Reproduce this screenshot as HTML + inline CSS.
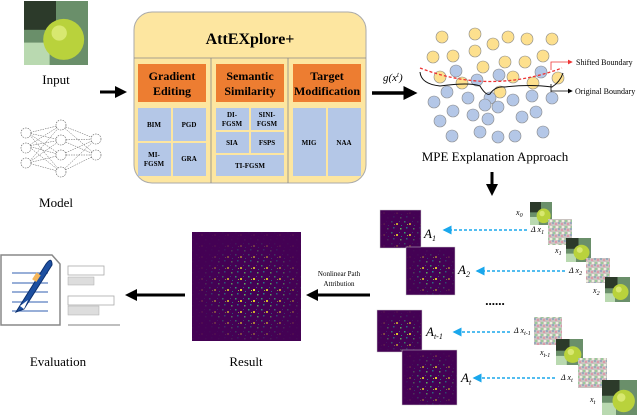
<!DOCTYPE html>
<html><head><meta charset="utf-8"><style>
html,body{margin:0;padding:0;background:#fff;}
svg{display:block;font-family:"Liberation Serif",serif;}
</style></head><body>
<svg width="640" height="418" viewBox="0 0 640 418" xmlns="http://www.w3.org/2000/svg">
<defs>
<marker id="ab" markerWidth="4" markerHeight="4" refX="3" refY="2" orient="auto"><path d="M0,0 L4,2 L0,4 z" fill="#000"/></marker>
<marker id="abl" markerWidth="6" markerHeight="6" refX="5" refY="3" orient="auto"><path d="M0,0 L6,3 L0,6 z" fill="#1aa7ec"/></marker>
<marker id="as" markerWidth="6" markerHeight="6" refX="5" refY="3" orient="auto"><path d="M0,0 L6,3 L0,6 z" fill="#000"/></marker>
<marker id="ar" markerWidth="6" markerHeight="6" refX="5" refY="3" orient="auto"><path d="M0,0 L6,3 L0,6 z" fill="#e33"/></marker>
<pattern id="hm" width="13" height="11" patternUnits="userSpaceOnUse">
<rect x="1" y="1" width="1.5" height="1.5" fill="#35b779"/><rect x="6" y="3" width="2" height="2" fill="#fde725"/><rect x="3" y="7" width="1.5" height="1.5" fill="#21918c"/><rect x="10" y="8" width="1.5" height="1.5" fill="#5ec962"/><rect x="9" y="1" width="1" height="1" fill="#3b528b"/><rect x="4" y="4" width="1" height="1" fill="#b5de2b"/><rect x="11" y="5" width="1" height="1" fill="#21918c"/>
</pattern>
<radialGradient id="rg" cx="0.55" cy="0.55" r="0.5"><stop offset="0" stop-color="#fff" stop-opacity="1"/><stop offset="0.45" stop-color="#fff" stop-opacity="0.7"/><stop offset="1" stop-color="#fff" stop-opacity="0.05"/></radialGradient>
<mask id="mk" maskContentUnits="objectBoundingBox"><rect width="1" height="1" fill="url(#rg)"/></mask>
<pattern id="nz" width="6" height="6" patternUnits="userSpaceOnUse">
<rect width="6" height="6" fill="#c9c3c0"/><rect width="2" height="2" fill="#9ab"/><rect x="3" y="1" width="2" height="2" fill="#d9a"/><rect x="1" y="4" width="2" height="2" fill="#9c9"/><rect x="4" y="4" width="2" height="2" fill="#eed"/>
</pattern>
<g id="fruit"><rect width="1" height="1" fill="#6a8f6a"/><rect x="0" y="0" width="0.5" height="0.45" fill="#2c3a2a"/><rect x="0" y="0.65" width="0.4" height="0.35" fill="#b9d9b0"/><circle cx="0.62" cy="0.6" r="0.32" fill="#b9d23c"/><circle cx="0.55" cy="0.5" r="0.12" fill="#d8e870"/></g>
</defs>

<g transform="translate(24,1) scale(64,64)"><use href="#fruit"/></g>
<text x="56" y="84" font-size="13" text-anchor="middle">Input</text>
<g stroke="#555" stroke-width="0.5" fill="none" stroke-dasharray="1.5,1">
<path d="M28,133 L61,125 M28,133 L61,140 M28,133 L61,155 M28,133 L61,172 M28,146 L61,125 M28,146 L61,140 M28,146 L61,155 M28,146 L61,172 M28,163 L61,125 M28,163 L61,140 M28,163 L61,155 M28,163 L61,172 M61,125 L96,139 M61,125 L96,155 M61,140 L96,139 M61,140 L96,155 M61,155 L96,139 M61,155 L96,155 M61,172 L96,139 M61,172 L96,155"/>
</g>
<g fill="#fff" stroke="#555" stroke-width="0.6" stroke-dasharray="1.5,1">
<circle cx="26" cy="133" r="5"/><circle cx="26" cy="148" r="5"/><circle cx="26" cy="163" r="5"/>
<circle cx="61" cy="125" r="5"/><circle cx="61" cy="140" r="5"/><circle cx="61" cy="155" r="5"/><circle cx="61" cy="172" r="5"/>
<circle cx="96" cy="139" r="5"/><circle cx="96" cy="155" r="5"/>
</g>
<text x="56" y="207" font-size="13" text-anchor="middle">Model</text>
<line x1="100" y1="92" x2="124" y2="92" stroke="#000" stroke-width="3" marker-end="url(#ab)"/>

<rect x="134" y="12" width="232" height="171" rx="18" fill="#fde6a0" stroke="#aaa" stroke-width="1"/>
<line x1="134" y1="58" x2="366" y2="58" stroke="#888" stroke-width="0.8"/>
<line x1="211" y1="58" x2="211" y2="183" stroke="#888" stroke-width="0.8"/>
<line x1="288" y1="58" x2="288" y2="183" stroke="#888" stroke-width="0.8"/>
<text x="250" y="44" font-size="16" font-weight="bold" text-anchor="middle">AttEXplore+</text>
<g fill="#ed7d31">
<rect x="138" y="64" width="68" height="38"/><rect x="216" y="64" width="68" height="38"/><rect x="293" y="64" width="68" height="38"/>
</g>
<g font-size="12" font-weight="bold" text-anchor="middle">
<text x="172" y="80">Gradient</text><text x="172" y="95">Editing</text>
<text x="250" y="80">Semantic</text><text x="250" y="95">Similarity</text>
<text x="327" y="80">Target</text><text x="327" y="95">Modification</text>
</g>
<g fill="#b4c7e7">
<rect x="138" y="108" width="33" height="33"/><rect x="173" y="108" width="33" height="33"/>
<rect x="138" y="143" width="33" height="33"/><rect x="173" y="143" width="33" height="33"/>
<rect x="216" y="108" width="33" height="22"/><rect x="251" y="108" width="33" height="22"/>
<rect x="216" y="132" width="33" height="21"/><rect x="251" y="132" width="33" height="21"/>
<rect x="216" y="155" width="68" height="21"/>
<rect x="293" y="108" width="33" height="68"/><rect x="328" y="108" width="33" height="68"/>
</g>
<g font-size="7" font-weight="bold" text-anchor="middle">
<text x="154" y="127">BIM</text><text x="189" y="127">PGD</text>
<text x="154" y="157">MI-</text><text x="154" y="166">FGSM</text><text x="189" y="161">GRA</text>
<text x="232" y="117">DI-</text><text x="232" y="126">FGSM</text>
<text x="267" y="117">SINI-</text><text x="267" y="126">FGSM</text>
<text x="232" y="145">SIA</text><text x="267" y="145">FSPS</text>
<text x="250" y="168">TI-FGSM</text>
<text x="309" y="145">MIG</text><text x="344" y="145">NAA</text>
</g>

<text x="383" y="81" font-size="11" font-style="italic">g(x<tspan font-size="7" dy="-4">t</tspan><tspan dy="4">)</tspan></text>
<line x1="372" y1="93" x2="414" y2="93" stroke="#000" stroke-width="3.5" marker-end="url(#ab)"/>

<g fill="#fde08e" stroke="#888" stroke-width="0.6">
<circle cx="442" cy="37" r="6"/><circle cx="475" cy="34" r="6"/><circle cx="508" cy="37" r="6"/><circle cx="527" cy="39" r="6"/><circle cx="552" cy="39" r="6"/><circle cx="493" cy="44" r="6"/><circle cx="433" cy="57" r="6"/><circle cx="453" cy="56" r="6"/><circle cx="475" cy="51" r="6"/><circle cx="505" cy="62" r="6"/><circle cx="525" cy="62" r="6"/><circle cx="543" cy="56" r="6"/><circle cx="483" cy="67" r="6"/><circle cx="440" cy="77" r="6"/><circle cx="462" cy="83" r="6"/><circle cx="513" cy="77" r="6"/><circle cx="533" cy="83" r="6"/><circle cx="558" cy="78" r="6"/><circle cx="500" cy="92" r="6"/>
</g>
<g fill="#b4c7e7" stroke="#888" stroke-width="0.6">
<circle cx="456" cy="71" r="6"/><circle cx="499" cy="75" r="6"/><circle cx="541" cy="72" r="6"/><circle cx="477" cy="80" r="6"/><circle cx="447" cy="92" r="6"/><circle cx="468" cy="98" r="6"/><circle cx="490" cy="98" r="6"/><circle cx="434" cy="102" r="6"/><circle cx="513" cy="100" r="6"/><circle cx="532" cy="96" r="6"/><circle cx="552" cy="98" r="6"/><circle cx="485" cy="105" r="6"/><circle cx="498" cy="107" r="6"/><circle cx="453" cy="111" r="6"/><circle cx="473" cy="115" r="6"/><circle cx="488" cy="119" r="6"/><circle cx="536" cy="112" r="6"/><circle cx="522" cy="117" r="6"/><circle cx="440" cy="121" r="6"/><circle cx="452" cy="136" r="6"/><circle cx="480" cy="132" r="6"/><circle cx="498" cy="137" r="6"/><circle cx="515" cy="136" r="6"/><circle cx="543" cy="132" r="6"/>
</g>
<path d="M420,68 Q490,95 562,68" fill="none" stroke="#e33" stroke-width="1.3" stroke-dasharray="3,2"/>
<path d="M420,72 Q421,84 440,86 Q470,82 480,86 Q486,96 490,94 Q495,86 505,87 Q530,84 552,87 Q560,82 563,73" fill="none" stroke="#111" stroke-width="1"/>
<path d="M551,70 L551,62 L572,62" fill="none" stroke="#e33" stroke-width="0.8" marker-end="url(#ar)"/>
<text x="576" y="65" font-size="8">Shifted Boundary</text>
<path d="M551,84 L551,92 M551,91 L572,91" fill="none" stroke="#000" stroke-width="0.8" marker-end="url(#as)"/>
<text x="575" y="94" font-size="8">Original Boundary</text>
<text x="495" y="161" font-size="13" text-anchor="middle">MPE Explanation Approach</text>
<line x1="492" y1="172" x2="492" y2="193" stroke="#000" stroke-width="3" marker-end="url(#ab)"/>

<g><rect x="380" y="210" width="41" height="38" fill="#440154" stroke="#ccc" stroke-width="0.5"/><rect x="380" y="210" width="41" height="38" fill="url(#hm)" mask="url(#mk)"/></g>
<g><rect x="406" y="247" width="49" height="48" fill="#440154" stroke="#ccc" stroke-width="0.5"/><rect x="406" y="247" width="49" height="48" fill="url(#hm)" mask="url(#mk)"/></g>
<g><rect x="377" y="310" width="45" height="42" fill="#440154" stroke="#ccc" stroke-width="0.5"/><rect x="377" y="310" width="45" height="42" fill="url(#hm)" mask="url(#mk)"/></g>
<g><rect x="402" y="350" width="55" height="55" fill="#440154" stroke="#ccc" stroke-width="0.5"/><rect x="402" y="350" width="55" height="55" fill="url(#hm)" mask="url(#mk)"/></g>
<g font-size="13" font-style="italic">
<text x="424" y="238">A<tspan font-size="8" dy="3">1</tspan></text>
<text x="458" y="274">A<tspan font-size="8" dy="3">2</tspan></text>
<text x="426" y="336">A<tspan font-size="8" dy="3">t-1</tspan></text>
<text x="461" y="382">A<tspan font-size="8" dy="3">t</tspan></text>
</g>
<g stroke="#1aa7ec" stroke-width="1.5" stroke-dasharray="3,2" marker-end="url(#abl)">
<line x1="527" y1="230" x2="444" y2="230"/><line x1="565" y1="271" x2="477" y2="271"/>
<line x1="510" y1="332" x2="454" y2="332"/><line x1="555" y1="378" x2="474" y2="378"/>
</g>
<text x="495" y="305" font-size="13" text-anchor="middle" font-weight="bold">......</text>
<g transform="translate(530,202) scale(22,23)"><use href="#fruit"/></g>
<rect x="548" y="219" width="24" height="26" fill="url(#nz)"/>
<g transform="translate(566,238) scale(25,24)"><use href="#fruit"/></g>
<rect x="586" y="258" width="24" height="25" fill="url(#nz)"/>
<g transform="translate(605,277) scale(25,25)"><use href="#fruit"/></g>
<rect x="534" y="317" width="28" height="28" fill="url(#nz)"/>
<g transform="translate(556,339) scale(27,26)"><use href="#fruit"/></g>
<rect x="578" y="358" width="29" height="30" fill="url(#nz)"/>
<g transform="translate(602,380) scale(35,35)"><use href="#fruit"/></g>
<g font-size="8" font-style="italic">
<text x="516" y="215">x<tspan font-size="6" dy="2">0</tspan></text>
<text x="531" y="232">Δ x<tspan font-size="6" dy="2">1</tspan></text>
<text x="555" y="253">x<tspan font-size="6" dy="2">1</tspan></text>
<text x="569" y="273">Δ x<tspan font-size="6" dy="2">2</tspan></text>
<text x="593" y="293">x<tspan font-size="6" dy="2">2</tspan></text>
<text x="514" y="333">Δ x<tspan font-size="6" dy="2">t-1</tspan></text>
<text x="540" y="355">x<tspan font-size="6" dy="2">t-1</tspan></text>
<text x="561" y="380">Δ x<tspan font-size="6" dy="2">t</tspan></text>
<text x="590" y="402">x<tspan font-size="6" dy="2">t</tspan></text>
</g>

<rect x="192" y="232" width="109" height="109" fill="#440154"/>
<rect x="192" y="232" width="109" height="109" fill="url(#hm)" mask="url(#mk)"/>
<text x="246" y="366" font-size="13" text-anchor="middle">Result</text>
<line x1="370" y1="295" x2="309" y2="295" stroke="#000" stroke-width="3" marker-end="url(#ab)"/>
<text x="339" y="276" font-size="7" text-anchor="middle">Nonlinear Path</text>
<text x="339" y="286" font-size="7" text-anchor="middle">Attribution</text>
<line x1="185" y1="295" x2="128" y2="295" stroke="#000" stroke-width="3" marker-end="url(#ab)"/>

<path d="M1,255 L52,255 L60,264 L60,325 L1,325 Z" fill="#fff" stroke="#888" stroke-width="1.5"/>
<g stroke="#5a7fc0" stroke-width="1.2">
<line x1="12" y1="273" x2="48" y2="273"/><line x1="12" y1="283" x2="48" y2="283"/><line x1="12" y1="292" x2="48" y2="292"/><line x1="12" y1="302" x2="48" y2="302"/><line x1="12" y1="311" x2="48" y2="311"/>
</g>
<path d="M16,312 L46,264 Q52,256 52,265 L24,309 Z" fill="#1d4fa0" stroke="#0b2f6e" stroke-width="1"/>
<path d="M20,306 L28,300 L24,309 Z" fill="#fff"/>
<rect x="32" y="275" width="8" height="5" fill="#f4b55a" transform="rotate(-57 36 277)"/>
<g fill="#fff" stroke="#aaa" stroke-width="0.8">
<rect x="68" y="266" width="36" height="9"/><rect x="68" y="296" width="46" height="9"/>
</g>
<rect x="68" y="277" width="26" height="8" fill="#ddd" stroke="#aaa" stroke-width="0.5"/>
<rect x="68" y="306" width="31" height="9" fill="#ddd" stroke="#aaa" stroke-width="0.5"/>
<line x1="68" y1="325" x2="120" y2="325" stroke="#999" stroke-width="1.2"/>
<text x="58" y="366" font-size="13" text-anchor="middle">Evaluation</text>
</svg>
</body></html>
